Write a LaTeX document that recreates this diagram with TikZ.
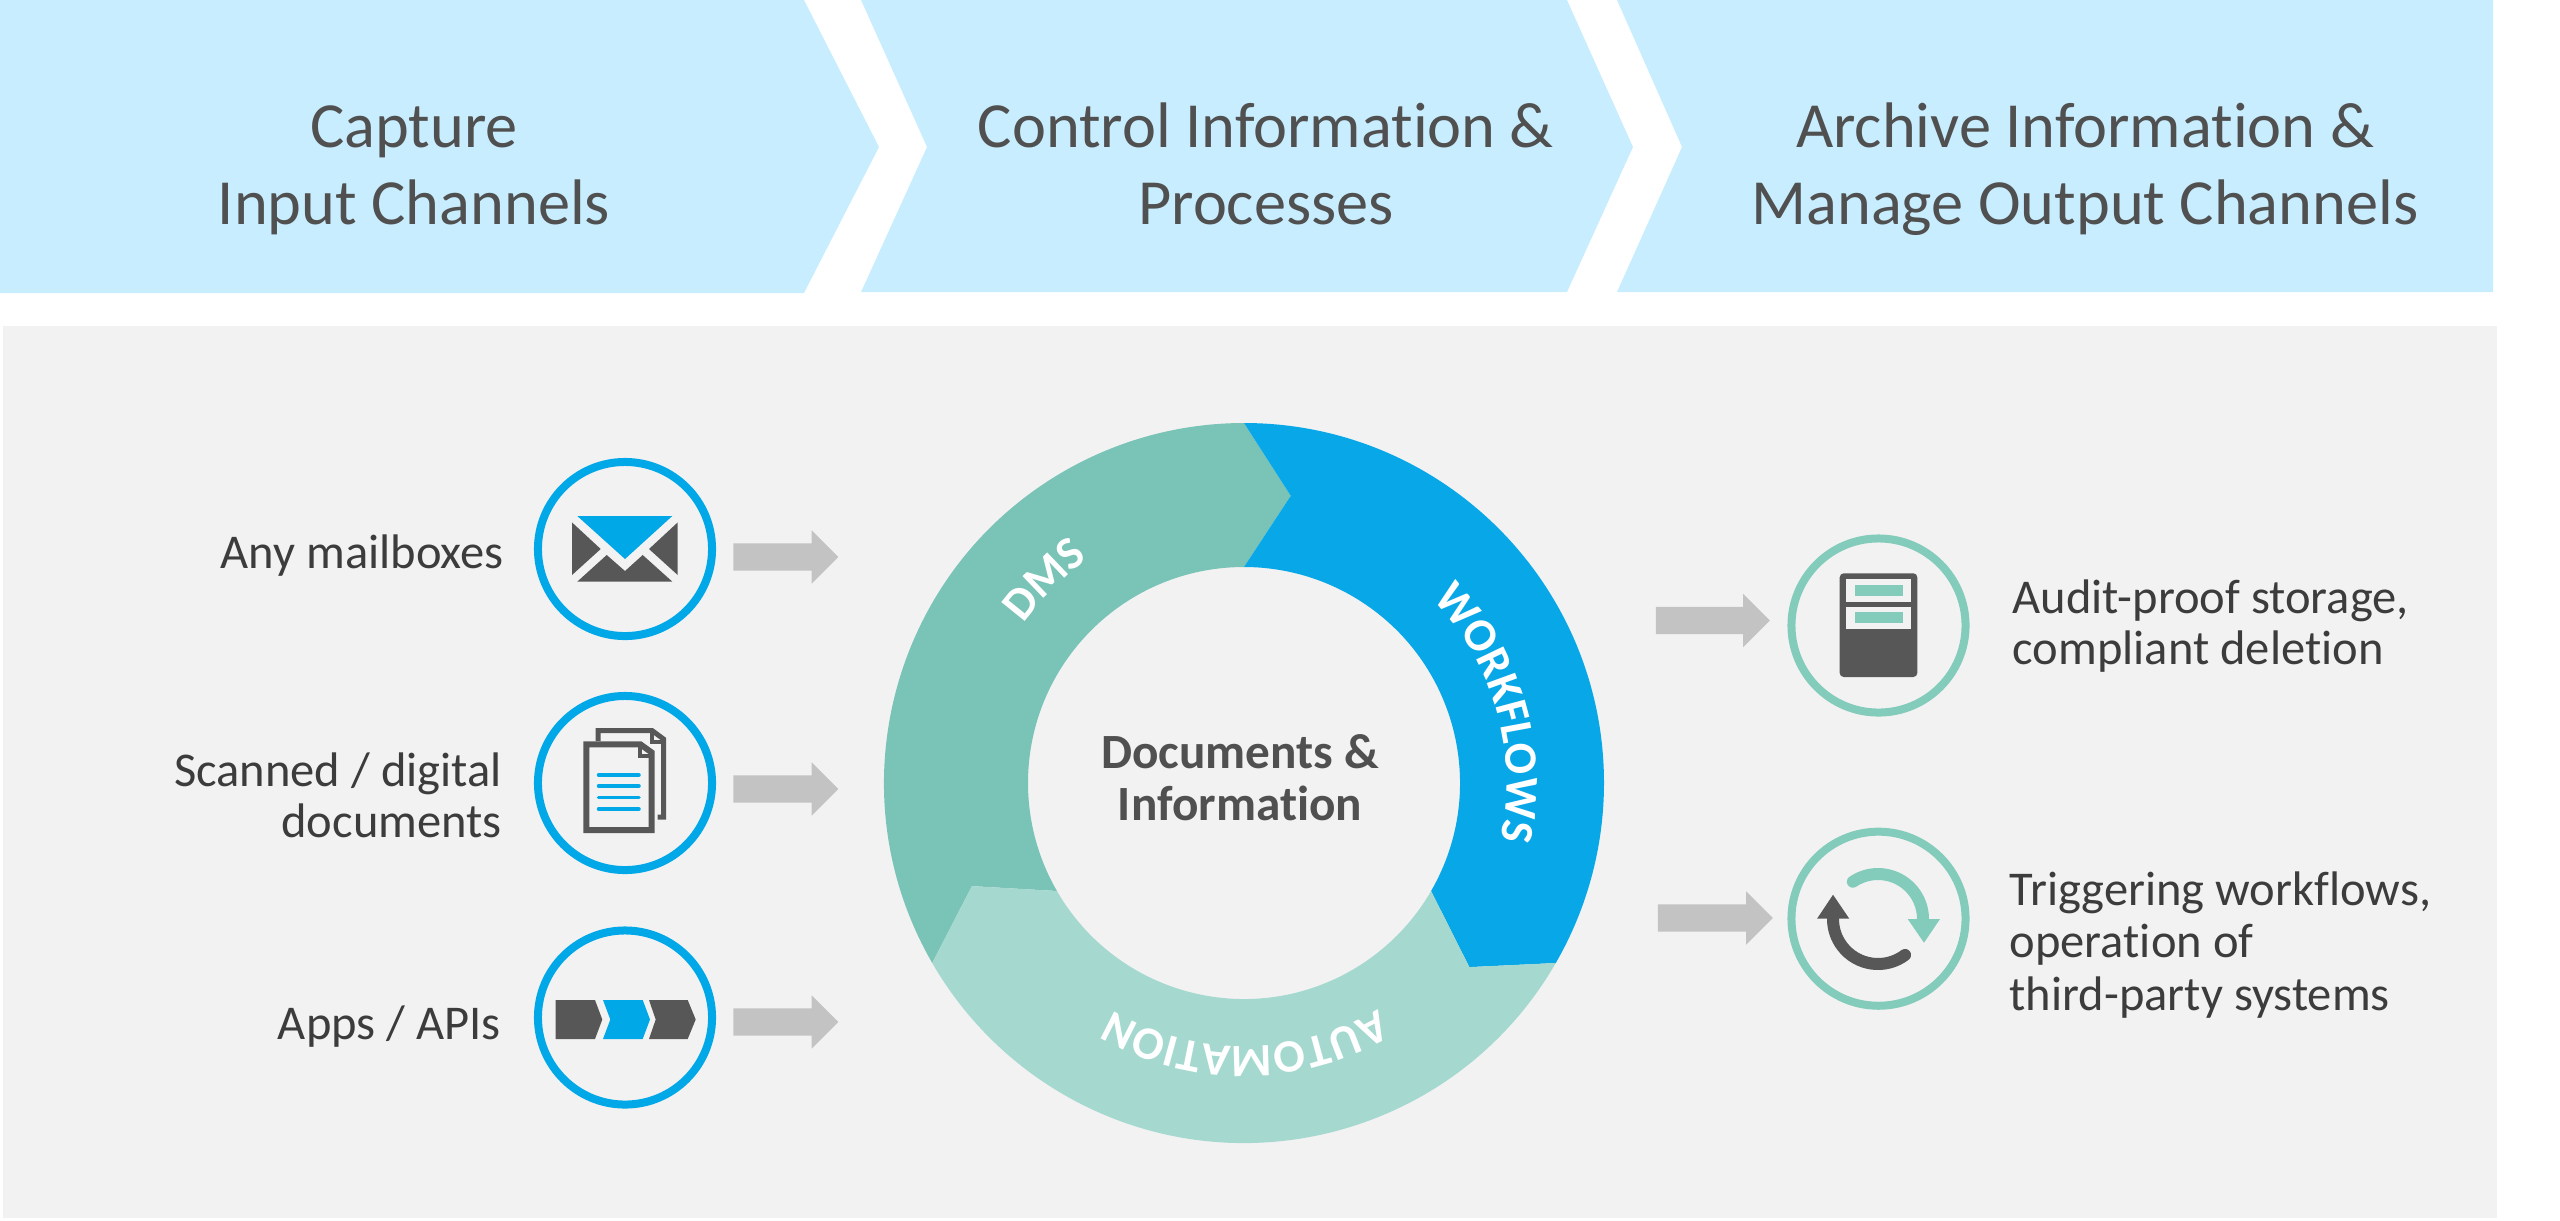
\documentclass[tikz,border=0pt]{standalone}
\usepackage{fontspec}
\setmainfont[Ligatures=NoCommon]{Carlito}
\usetikzlibrary{shapes.arrows,decorations.text}

\definecolor{headfill}{HTML}{C8EDFE}
\definecolor{panelfill}{HTML}{F2F2F2}
\definecolor{headtext}{HTML}{505050}
\definecolor{labeltext}{HTML}{3C3C3C}
\definecolor{icongray}{HTML}{575757}
\definecolor{ringblue}{HTML}{00A8E8}
\definecolor{ringteal}{HTML}{83CBBB}
\definecolor{dmsfill}{HTML}{79C3B7}
\definecolor{wffill}{HTML}{08A8E8}
\definecolor{autofill}{HTML}{A5D9D0}
\definecolor{flowgray}{HTML}{C3C3C3}

\newcommand{\ringfont}{\fontsize{13.2}{13.2}\selectfont\bfseries\color{white}}

\tikzset{
	head/.style={text=headtext, align=center, font=\fontsize{18.3}{21.8}\selectfont},
	label/.style={text=labeltext, inner sep=0pt, font=\fontsize{13.8}{14.6}\selectfont},
	iconring/.style={draw, circle, line width=0.08cm, minimum size=1.74cm, inner sep=0pt},
	flowarrow/.style={single arrow, fill=flowgray, inner xsep=0pt, inner ysep=0.13cm, minimum height=1.05cm,
		minimum width=0.52cm, single arrow head extend=0.13cm},
	ringlabel/.style={postaction={decorate}, decoration={text along path, text align=center, text={|\ringfont|#1}}}
}

\begin{document}
\begin{tikzpicture}[x=0.01cm, y=-0.01cm]
		\useasboundingbox (0,0) rectangle (2560,1220);

		% Header chevrons
		\fill[headfill] (0,0) -- (804,0) -- (879,147) -- (804,293) -- (0,293) -- cycle;
		\fill[headfill] (861,0) -- (1567,0) -- (1633,147) -- (1567,292) -- (861,292) -- (927,147) -- cycle;
		\fill[headfill] (1617,0) -- (2493,0) -- (2493,292) -- (1617,292) -- (1682,147) -- cycle;

		\node[head] (capture) at (414,170) {Capture\\Input Channels};
		\node[head] (control) at (1266,164) {Control Information \&\\Processes};
		\node[head] (archive) at (2085,169) {Archive Information \&\\Manage Output Channels};

		% Grey panel
		\fill[panelfill] (3,326) rectangle (2497,1218);

		% Ring segments
		\begin{scope}[shift={(1244,783)}, x=0.01cm, y=0.01cm]
			\fill[dmsfill] (210:360) arc (210:90:360) -- (80.75:291) -- (90:216) arc (90:210:216) -- (200.75:291) -- cycle;
			\fill[wffill] (90:360) arc (90:-30:360) -- (-39.25:291) -- (-30:216) arc (-30:90:216) -- (80.75:291) -- cycle;
			\fill[autofill] (-30:360) arc (-30:-150:360) -- (-159.25:291) -- (-150:216) arc (-150:-30:216) -- (-39.25:291) -- cycle;

			\path[ringlabel=DMS] (194.5:272) arc (194.5:74.5:272);
			\path[ringlabel=WORKFLOWS] (76:263) arc (76:-44:263);
			\path[ringlabel=AUTOMATION] (-29.7:263) arc (-29.7:-149.7:263);
		\end{scope}

		\node[text=headtext, align=center, font=\fontsize{14}{14.8}\selectfont\bfseries] (docs) at (1240,778) {Documents \&\\Information};

		% Input channels
		\node[iconring, draw=ringblue] (mail) at (625,549) {};
		\node[iconring, draw=ringblue] (scan) at (625,783) {};
		\node[iconring, draw=ringblue] (apps) at (625,1017.5) {};

		\node[label, anchor=east, align=right] (maillabel) at (504.5,556) {Any mailboxes};
		\node[label, anchor=east, align=right] (scanlabel) at (502.5,795) {Scanned / digital\\documents};
		\node[label, anchor=east, align=right] (appslabel) at (501.5,1027) {Apps / APIs};

		\node[flowarrow] (mailflow) at (779,557) {};
		\node[flowarrow] (scanflow) at (779,789) {};
		\node[flowarrow] (appsflow) at (779,1022) {};

		% Envelope
		\fill[ringblue] (577.3,516) -- (672.3,516) -- (625,559) -- cycle;
		\fill[icongray] (572,522.4) -- (600.7,549) -- (572,575) -- cycle;
		\fill[icongray] (677.7,522.4) -- (649,549) -- (677.7,575) -- cycle;
		\fill[icongray] (577.3,581.6) -- (606.7,555) -- (625,571) -- (642.7,555) -- (672.3,581.6) -- cycle;

		% Paper stack
		\draw[icongray, line width=0.05cm] (598,741) -- (598,730.5) -- (652,730.5) -- (663.5,739) -- (663.5,817) -- (657.7,817);
		\draw[icongray, line width=0.04cm] (652,730.5) -- (652,742) -- (663.5,742);
		\draw[icongray, line width=0.06cm] (586.3,744.4) -- (640.5,744.4) -- (651.7,752.5) -- (651.7,830.2) -- (586.3,830.2) -- cycle;
		\draw[icongray, line width=0.04cm] (640,744.4) -- (640,756) -- (651.7,756);
		\draw[ringblue, line width=0.035cm, line cap=round] (598.5,775) -- (639,775);
		\draw[ringblue, line width=0.035cm, line cap=round] (598.5,786) -- (639,786);
		\draw[ringblue, line width=0.035cm, line cap=round] (598.5,797.4) -- (639,797.4);
		\draw[ringblue, line width=0.035cm, line cap=round] (598.5,809) -- (639,809);

		% Process chevrons
		\fill[icongray] (555.7,1000) -- (595,1000) -- (602.3,1019.5) -- (595,1039) -- (555.7,1039) -- cycle;
		\fill[ringblue] (603,1000) -- (642.7,1000) -- (650,1019.5) -- (642.7,1039) -- (603,1039) -- (610.3,1019.5) -- cycle;
		\fill[icongray] (649,1000) -- (687.7,1000) -- (695.7,1019.5) -- (687.7,1039) -- (649,1039) -- (655.7,1019.5) -- cycle;

		% Output channels
		\node[flowarrow, minimum height=1.14cm] (storeflow) at (1706,620.5) {};
		\node[flowarrow, minimum height=1.15cm] (triggerflow) at (1708.5,918) {};

		\node[iconring, draw=ringteal] (store) at (1878.5,625.5) {};
		\node[iconring, draw=ringteal] (trigger) at (1878.5,918.7) {};

		\node[label, anchor=west, align=left] (storelabel) at (2012,626) {Audit-proof storage,\\compliant deletion};
		\node[label, anchor=west, align=left, font=\fontsize{13.8}{15}\selectfont] (triggerlabel) at (2009,945) {Triggering workflows,\\operation of\\third-party systems};

		% Storage cabinet
		\fill[icongray, rounded corners=0.04cm] (1839.7,677) -- (1839.7,573.3) -- (1917.3,573.3) -- (1917.3,677) -- cycle;
		\fill[panelfill] (1846,579.3) rectangle (1911.3,601.7);
		\fill[panelfill] (1846,606.7) rectangle (1911.3,628.7);
		\fill[ringteal] (1854.7,585.3) rectangle (1902.7,596.3);
		\fill[ringteal] (1854.7,612.3) rectangle (1902.7,623.3);

		% Cycle arrows
		\begin{scope}[shift={(1878,919)}, x=0.01cm, y=0.01cm]
			\draw[ringteal, line width=0.12cm, line cap=round] (124:45) arc (124:0:45);
			\draw[icongray, line width=0.12cm, line cap=round] (-53:45) arc (-53:-180:45);
		\end{scope}
		\fill[ringteal] (1907.7,919) -- (1940,919) -- (1924,942.7) -- cycle;
		\fill[icongray] (1817,918.7) -- (1849.3,918.7) -- (1833,894.7) -- cycle;
	\end{tikzpicture}
\end{document}
